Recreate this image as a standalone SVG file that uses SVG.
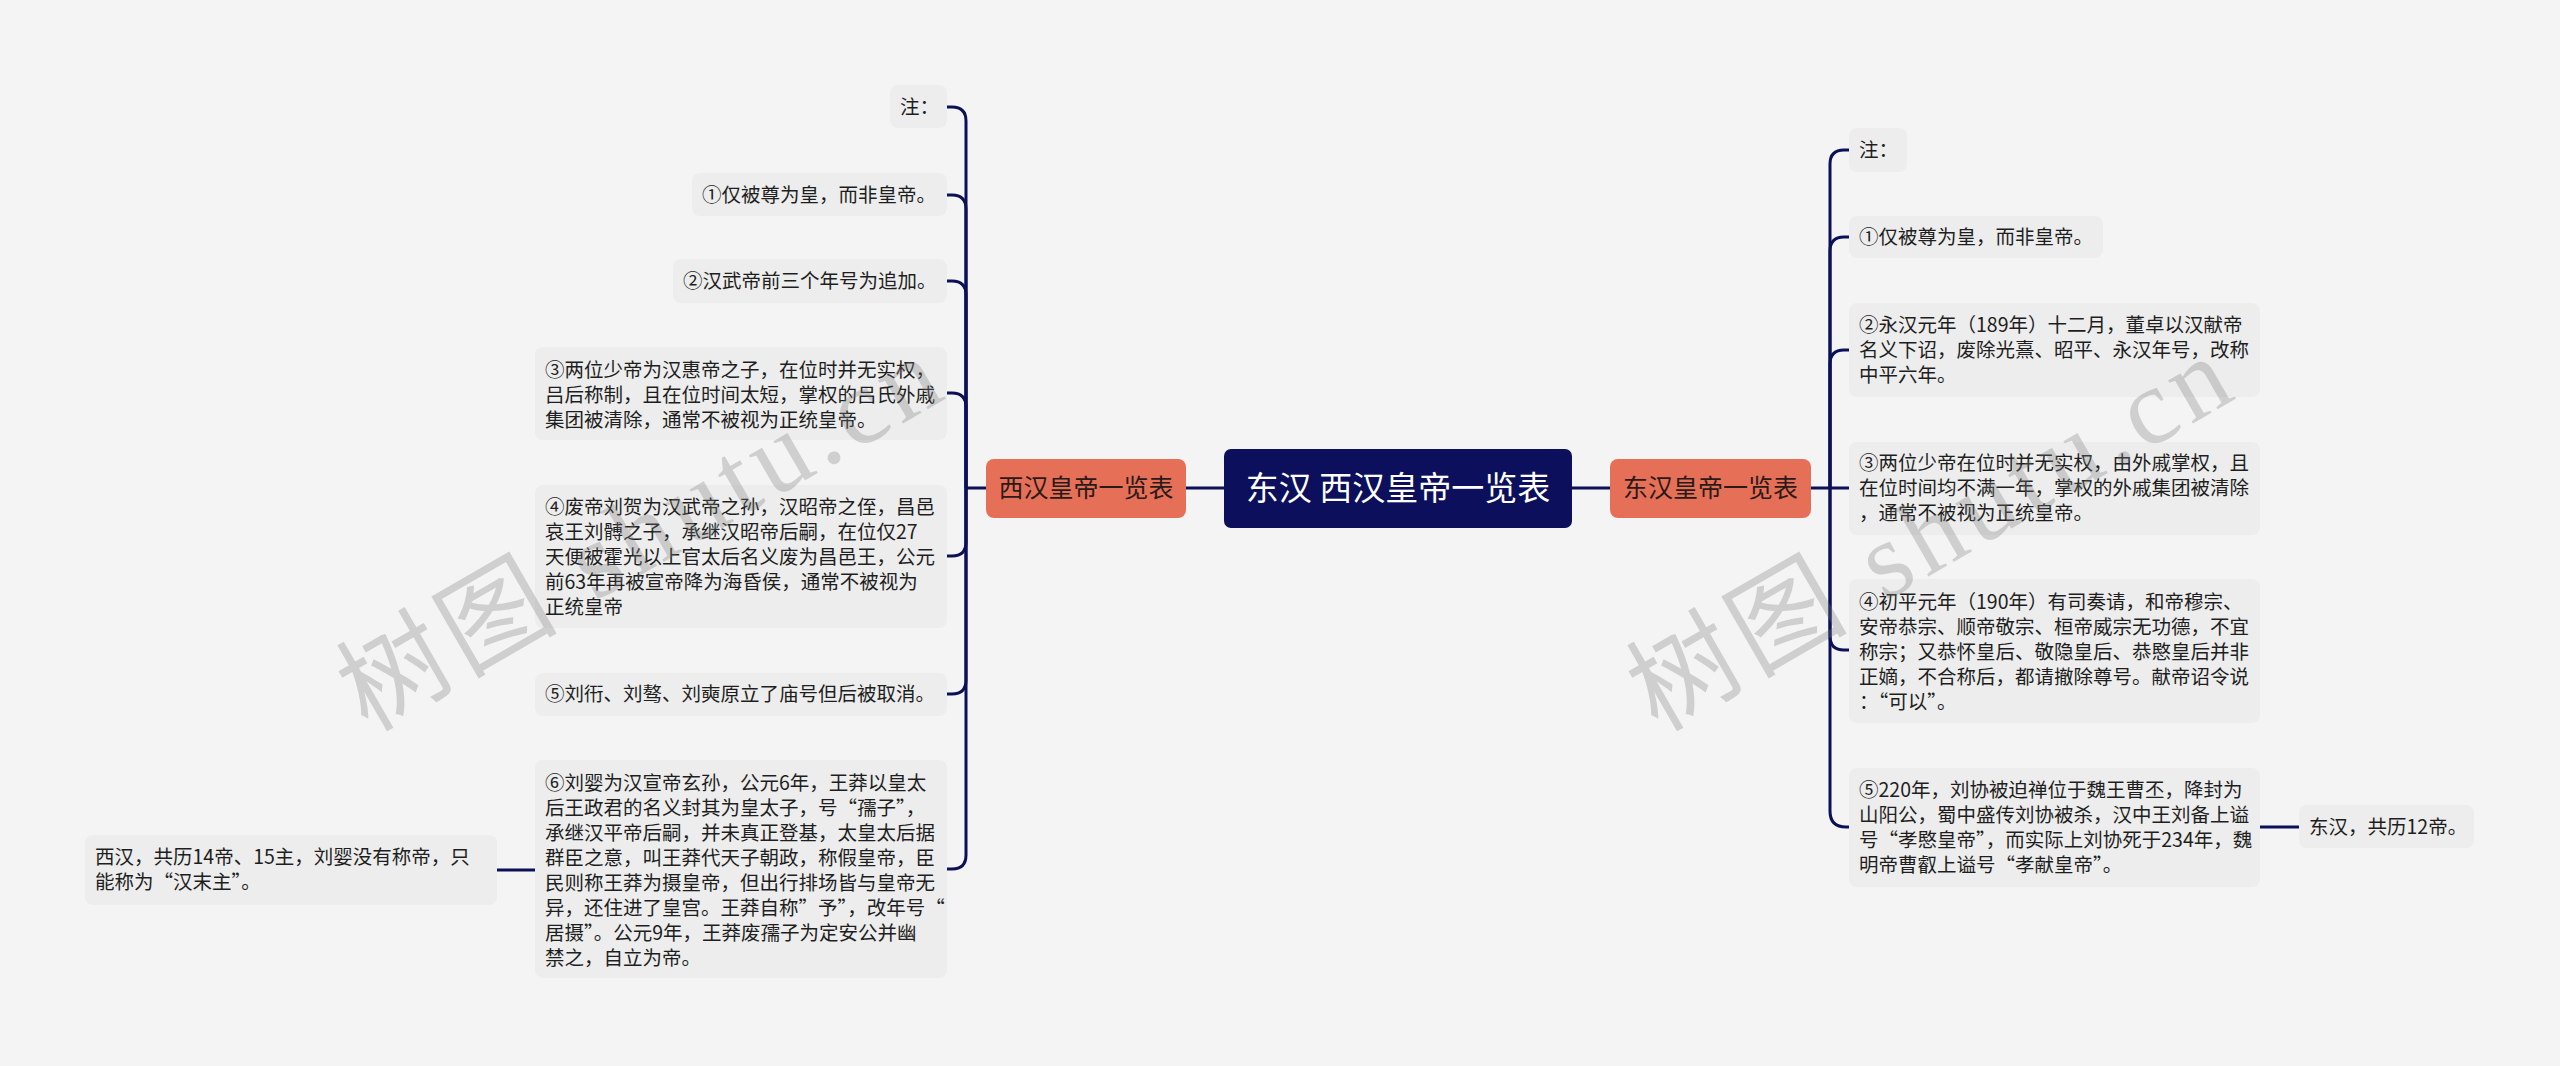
<svg xmlns="http://www.w3.org/2000/svg" width="2560" height="1066" viewBox="0 0 2560 1066">
<style>
.t{font-family:"Noto Sans CJK SC","Noto Sans",sans-serif;font-size:19.5px;fill:#1e1e1e}
.box{fill:#ededed}
.br{fill:#e66f58}
.brt{font-family:"Noto Sans CJK SC","Noto Sans",sans-serif;font-size:25px;fill:#2a1a18;text-anchor:middle}
.ct{font-family:"Noto Sans CJK SC","Noto Sans",sans-serif;font-size:33px;fill:#ffffff;text-anchor:middle}
.ln{fill:none;stroke:#0b1058;stroke-width:3}
.wm{font-family:"Liberation Serif","Noto Sans CJK SC",serif;font-size:108px;fill:#7a7a7a;fill-opacity:0.3}
</style>
<rect width="2560" height="1066" fill="#f4f4f4"/>
<g id="connectors">
<path class="ln" d="M1224,488 H1186"/>
<path class="ln" d="M1572,488 H1610"/>
<path class="ln" d="M986,488 H966"/>
<path class="ln" d="M1811,488 H1830"/>
<path class="ln" d="M966,488 V121 Q966,107 952,107 H947"/>
<path class="ln" d="M966,488 V209 Q966,195 952,195 H947"/>
<path class="ln" d="M966,488 V295 Q966,281 952,281 H947"/>
<path class="ln" d="M966,488 V407 Q966,393 952,393 H947"/>
<path class="ln" d="M966,488 V542 Q966,556 952,556 H947"/>
<path class="ln" d="M966,488 V680 Q966,694 952,694 H947"/>
<path class="ln" d="M966,488 V855 Q966,869 952,869 H947"/>
<path class="ln" d="M535,870 H497"/>
<path class="ln" d="M1830,488 V164 Q1830,150 1844,150 H1849"/>
<path class="ln" d="M1830,488 V251 Q1830,237 1844,237 H1849"/>
<path class="ln" d="M1830,488 V364 Q1830,350 1844,350 H1849"/>
<path class="ln" d="M1830,488 H1849"/>
<path class="ln" d="M1830,488 V636 Q1830,650 1844,650 H1849"/>
<path class="ln" d="M1830,488 V811 Q1830,827 1846,827 H1849"/>
<path class="ln" d="M2260,827 H2299"/>
</g>
<g id="root">
<rect x="1224" y="449" width="348" height="79" rx="7" fill="#0b0f5c"/>
<text class="ct" x="1398" y="500">东汉 西汉皇帝一览表</text>
</g>
<g id="west">
<rect class="br" x="986" y="459" width="200" height="59" rx="8"/>
<text class="brt" x="1086" y="497">西汉皇帝一览表</text>
</g>
<g id="east">
<rect class="br" x="1610" y="459" width="201" height="59" rx="8"/>
<text class="brt" x="1710.5" y="497">东汉皇帝一览表</text>
</g>
<g id="w0">
<rect class="box" x="890" y="85" width="57" height="43" rx="8"/>
<text class="t" x="900" y="114">注：</text>
</g>
<g id="w1">
<rect class="box" x="692" y="173" width="255" height="43" rx="8"/>
<text class="t" x="702" y="202">①仅被尊为皇，而非皇帝。</text>
</g>
<g id="w2">
<rect class="box" x="673" y="259" width="274" height="44" rx="8"/>
<text class="t" x="683" y="288">②汉武帝前三个年号为追加。</text>
</g>
<g id="w3">
<rect class="box" x="535" y="347" width="412" height="93" rx="8"/>
<text class="t" x="545" y="377">③两位少帝为汉惠帝之子，在位时并无实权，</text>
<text class="t" x="545" y="402">吕后称制，且在位时间太短，掌权的吕氏外戚</text>
<text class="t" x="545" y="427">集团被清除，通常不被视为正统皇帝。</text>
</g>
<g id="w4">
<rect class="box" x="535" y="485" width="412" height="143" rx="8"/>
<text class="t" x="545" y="514">④废帝刘贺为汉武帝之孙，汉昭帝之侄，昌邑</text>
<text class="t" x="545" y="539">哀王刘髆之子，承继汉昭帝后嗣，在位仅27</text>
<text class="t" x="545" y="564">天便被霍光以上官太后名义废为昌邑王，公元</text>
<text class="t" x="545" y="589">前63年再被宣帝降为海昏侯，通常不被视为</text>
<text class="t" x="545" y="614">正统皇帝</text>
</g>
<g id="w5">
<rect class="box" x="535" y="673" width="412" height="43" rx="8"/>
<text class="t" x="545" y="701">⑤刘衎、刘骜、刘奭原立了庙号但后被取消。</text>
</g>
<g id="w6">
<rect class="box" x="535" y="760" width="412" height="218" rx="8"/>
<text class="t" x="545" y="790">⑥刘婴为汉宣帝玄孙，公元6年，王莽以皇太</text>
<text class="t" x="545" y="815">后王政君的名义封其为皇太子，号“孺子”，</text>
<text class="t" x="545" y="840">承继汉平帝后嗣，并未真正登基，太皇太后据</text>
<text class="t" x="545" y="865">群臣之意，叫王莽代天子朝政，称假皇帝，臣</text>
<text class="t" x="545" y="890">民则称王莽为摄皇帝，但出行排场皆与皇帝无</text>
<text class="t" x="545" y="915">异，还住进了皇宫。王莽自称”予”，改年号“</text>
<text class="t" x="545" y="940">居摄”。公元9年，王莽废孺子为定安公并幽</text>
<text class="t" x="545" y="965">禁之，自立为帝。</text>
</g>
<g id="w6s">
<rect class="box" x="85" y="835" width="412" height="70" rx="8"/>
<text class="t" x="95" y="864">西汉，共历14帝、15主，刘婴没有称帝，只</text>
<text class="t" x="95" y="889">能称为“汉末主”。</text>
</g>
<g id="e0">
<rect class="box" x="1849" y="128" width="58" height="44" rx="8"/>
<text class="t" x="1859" y="157">注：</text>
</g>
<g id="e1">
<rect class="box" x="1849" y="216" width="254" height="42" rx="8"/>
<text class="t" x="1859" y="244">①仅被尊为皇，而非皇帝。</text>
</g>
<g id="e2">
<rect class="box" x="1849" y="303" width="411" height="94" rx="8"/>
<text class="t" x="1859" y="332">②永汉元年（189年）十二月，董卓以汉献帝</text>
<text class="t" x="1859" y="357">名义下诏，废除光熹、昭平、永汉年号，改称</text>
<text class="t" x="1859" y="382">中平六年。</text>
</g>
<g id="e3">
<rect class="box" x="1849" y="442" width="411" height="93" rx="8"/>
<text class="t" x="1859" y="470">③两位少帝在位时并无实权，由外戚掌权，且</text>
<text class="t" x="1859" y="495">在位时间均不满一年，掌权的外戚集团被清除</text>
<text class="t" x="1859" y="520">，通常不被视为正统皇帝。</text>
</g>
<g id="e4">
<rect class="box" x="1849" y="579" width="411" height="144" rx="8"/>
<text class="t" x="1859" y="609">④初平元年（190年）有司奏请，和帝穆宗、</text>
<text class="t" x="1859" y="634">安帝恭宗、顺帝敬宗、桓帝威宗无功德，不宜</text>
<text class="t" x="1859" y="659">称宗；又恭怀皇后、敬隐皇后、恭愍皇后并非</text>
<text class="t" x="1859" y="684">正嫡，不合称后，都请撤除尊号。献帝诏令说</text>
<text class="t" x="1859" y="709">：“可以”。</text>
</g>
<g id="e5">
<rect class="box" x="1849" y="768" width="411" height="119" rx="8"/>
<text class="t" x="1859" y="797">⑤220年，刘协被迫禅位于魏王曹丕，降封为</text>
<text class="t" x="1859" y="822">山阳公，蜀中盛传刘协被杀，汉中王刘备上谥</text>
<text class="t" x="1859" y="847">号“孝愍皇帝”，而实际上刘协死于234年，魏</text>
<text class="t" x="1859" y="872">明帝曹叡上谥号“孝献皇帝”。</text>
</g>
<g id="e5s">
<rect class="box" x="2299" y="805" width="175" height="43" rx="8"/>
<text class="t" x="2309" y="834">东汉，共历12帝。</text>
</g>
<g id="watermarks">
<text class="wm" x="640" y="570" text-anchor="middle" textLength="670" lengthAdjust="spacing" transform="rotate(-30 640 535)">树图 shutu.cn</text>
<text class="wm" x="1930" y="570" text-anchor="middle" textLength="670" lengthAdjust="spacing" transform="rotate(-30 1930 535)">树图 shutu.cn</text>
</g>
</svg>
